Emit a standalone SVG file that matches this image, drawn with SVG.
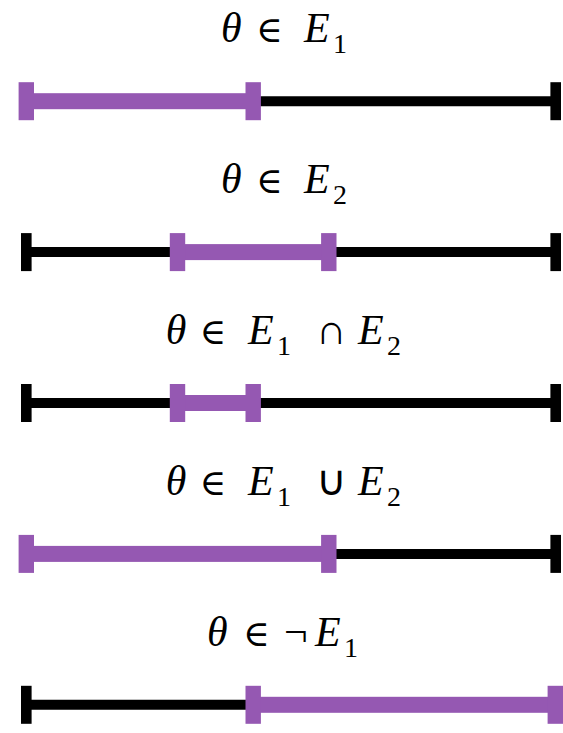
<svg xmlns="http://www.w3.org/2000/svg" xmlns:xlink="http://www.w3.org/1999/xlink" width="563" height="733" viewBox="0 0 563 733">
<style>
.bl{stroke:#000;stroke-width:10;fill:none}
.pu{fill:#9558B2}
</style>
<defs>
<rect id="bt" x="-5.3" y="-19" width="10.6" height="38" fill="#000"/>
<rect id="pt" x="-7.7" y="-19" width="15.4" height="38" fill="#9558B2"/>
</defs>

<g id="row1">
<text y="42" font-family="Liberation Serif" font-size="42"><tspan font-style="italic" x="221">θ</tspan><tspan font-family="DejaVu Serif" font-style="normal" font-size="36" x="256">∈</tspan><tspan font-style="italic" x="304">E</tspan><tspan font-style="normal" font-size="28" x="333" y="53">1</tspan></text>
<g transform="translate(0,101.2)">
<line class="bl" x1="26.3" y1="0" x2="555.7" y2="0"/>
<rect class="pu" x="26.3" y="-8" width="226.9" height="16"/>
<use xlink:href="#pt" x="26.3" y="0"/>
<use xlink:href="#pt" x="253.2" y="0"/>
<use xlink:href="#bt" x="555.7" y="0"/>
</g>
</g>

<g id="row2">
<text y="193" font-family="Liberation Serif" font-size="42"><tspan font-style="italic" x="221">θ</tspan><tspan font-family="DejaVu Serif" font-style="normal" font-size="36" x="256">∈</tspan><tspan font-style="italic" x="304">E</tspan><tspan font-style="normal" font-size="28" x="333" y="204">2</tspan></text>
<g transform="translate(0,252.1)">
<line class="bl" x1="26.3" y1="0" x2="555.7" y2="0"/>
<rect class="pu" x="177.5" y="-8" width="151.3" height="16"/>
<use xlink:href="#bt" x="26.3" y="0"/>
<use xlink:href="#pt" x="177.5" y="0"/>
<use xlink:href="#pt" x="328.8" y="0"/>
<use xlink:href="#bt" x="555.7" y="0"/>
</g>
</g>

<g id="row3">
<text y="343.5" font-family="Liberation Serif" font-size="42"><tspan font-style="italic" x="165.7">θ</tspan><tspan font-family="DejaVu Serif" font-style="normal" font-size="36" x="199.5">∈</tspan><tspan font-style="italic" x="248">E</tspan><tspan font-style="normal" font-size="28" x="277" y="354.5">1</tspan><tspan font-style="normal" x="316" y="343.5">∩</tspan><tspan font-style="italic" x="358">E</tspan><tspan font-style="normal" font-size="28" x="387" y="354.5">2</tspan></text>
<g transform="translate(0,403)">
<line class="bl" x1="26.3" y1="0" x2="555.7" y2="0"/>
<rect class="pu" x="177.5" y="-8" width="75.7" height="16"/>
<use xlink:href="#bt" x="26.3" y="0"/>
<use xlink:href="#pt" x="177.5" y="0"/>
<use xlink:href="#pt" x="253.2" y="0"/>
<use xlink:href="#bt" x="555.7" y="0"/>
</g>
</g>

<g id="row4">
<text y="494.5" font-family="Liberation Serif" font-size="42"><tspan font-style="italic" x="165.7">θ</tspan><tspan font-family="DejaVu Serif" font-style="normal" font-size="36" x="199.5">∈</tspan><tspan font-style="italic" x="248">E</tspan><tspan font-style="normal" font-size="28" x="277" y="505.5">1</tspan><tspan font-style="normal" x="316" y="494.5">∪</tspan><tspan font-style="italic" x="358">E</tspan><tspan font-style="normal" font-size="28" x="387" y="505.5">2</tspan></text>
<g transform="translate(0,553.9)">
<line class="bl" x1="26.3" y1="0" x2="555.7" y2="0"/>
<rect class="pu" x="26.3" y="-8" width="302.5" height="16"/>
<use xlink:href="#pt" x="26.3" y="0"/>
<use xlink:href="#pt" x="328.8" y="0"/>
<use xlink:href="#bt" x="555.7" y="0"/>
</g>
</g>

<g id="row5">
<text y="645.5" font-family="Liberation Serif" font-size="42"><tspan font-style="italic" x="207">θ</tspan><tspan font-family="DejaVu Serif" font-style="normal" font-size="36" x="243">∈</tspan><tspan font-style="normal" x="284">¬</tspan><tspan font-style="italic" x="315">E</tspan><tspan font-style="normal" font-size="28" x="344" y="656.5">1</tspan></text>
<g transform="translate(0,704.8)">
<line class="bl" x1="26.3" y1="0" x2="555.7" y2="0"/>
<rect class="pu" x="253.2" y="-8" width="302.5" height="16"/>
<use xlink:href="#bt" x="26.3" y="0"/>
<use xlink:href="#pt" x="253.2" y="0"/>
<use xlink:href="#pt" x="555.3" y="0"/>
</g>
</g>
</svg>
